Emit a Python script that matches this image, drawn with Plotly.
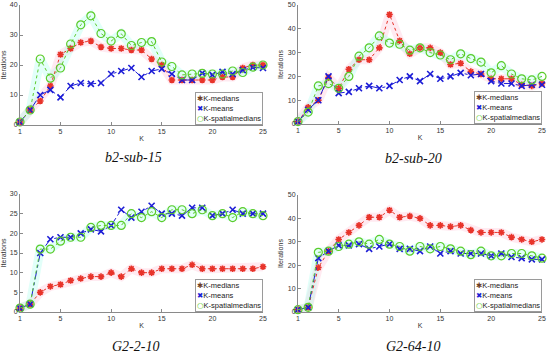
import plotly.graph_objects as go

K = list(range(1, 26))

# b2-sub-15
p1_medians = [1, 5, 8, 13, 23.5, 25.5, 27.5, 28, 26, 25.5, 25.5, 25, 25, 22, 20, 15, 15, 15, 15, 15, 16, 16, 19, 20, 20]
p1_means = [1, 5, 10, 11.7, 9.2, 13, 14, 13.7, 14, 17, 18, 19, 16, 18, 18.7, 17, 15, 15, 17.3, 16.7, 17.7, 17, 18.3, 19.2, 19]
p1_spatial = [1, 5, 22, 15.6, 19, 27, 33.4, 36.4, 30.5, 28, 30.4, 26.5, 27.5, 27.8, 21, 19.5, 16.7, 17, 17.2, 17, 17, 18, 17.5, 19.3, 20]

# b2-sub-20
p2_medians = [1, 7, 10, 19.5, 15, 23, 27, 27, 32, 46, 35, 29.5, 32, 32, 30, 25, 25.5, 22, 21, 19, 19, 19, 16.5, 16, 17]
p2_means = [1, 6, 10, 20, 13, 13.5, 15, 16, 15, 16, 18.5, 20, 18, 21, 19, 20, 21.5, 20.5, 21, 18, 17, 17, 16, 16.5, 16.5]
p2_spatial = [1, 5, 16, 17, 15, 20, 28.5, 32, 37, 34, 33.5, 31, 32, 30, 29, 27, 29.5, 27.5, 26, 21.5, 24.5, 21, 19, 18.5, 20]

# G2-2-10
p3_medians = [1, 2, 5, 6.5, 7, 8, 8.5, 9, 9, 10, 9, 11, 10, 10, 11, 11, 11, 12, 11, 11, 11, 11, 11, 11, 11.5]
p3_means = [1, 2, 15, 18.5, 19, 19, 20, 21, 20.5, 22, 26, 24, 25.5, 27, 25, 25, 24.5, 26.5, 26.5, 24.5, 25, 26, 25, 25, 25]
p3_spatial = [1, 2, 16, 16, 18, 19, 19, 21.5, 22, 22, 22, 25, 24, 25.5, 24, 26, 26, 25, 26, 24.5, 25, 24, 25.5, 25, 24.5]

# G2-64-10
p4_medians = [1, 2, 19, 26, 31, 34, 37, 40.5, 40.5, 43.5, 40.5, 41, 40, 37, 37, 36.5, 37, 35, 34, 34, 34, 32, 31, 30, 31]
p4_means = [1, 2, 23, 26, 28.5, 28.5, 29, 27, 28, 29, 27, 27, 26, 28, 25, 26, 25, 25, 25, 24, 25, 23.5, 23, 22.5, 22.5]
p4_spatial = [1, 2, 25.5, 26, 28, 29, 30, 29, 31, 29, 28, 26, 28, 27, 28, 27, 26, 24.5, 26, 24, 24, 25, 25, 24, 23]

titles = ["b2-sub-15", "b2-sub-20", "G2-2-10", "G2-64-10"]
series_names = ["K-medians", "K-means", "K-spatialmedians"]
yranges = [[0, 40], [0, 50], [0, 30], [0, 50]]
ytickvals = [[0, 10, 20, 30, 40], [0, 10, 20, 30, 40, 50], [0, 5, 10, 15, 20, 25, 30], [0, 10, 20, 30, 40, 50]]
data = [
    (p1_medians, p1_means, p1_spatial),
    (p2_medians, p2_means, p2_spatial),
    (p3_medians, p3_means, p3_spatial),
    (p4_medians, p4_means, p4_spatial),
]

W, H = 550, 357
# pixel boxes (left, right, top, bottom)
boxes = [(20, 263, 5, 125), (298, 542, 5, 124), (20, 263, 194, 312), (298, 542, 195, 312)]
title_pos = [(133, 157), (413, 158), (135, 346), (413, 346)]

RED = "#e8332a"
BROWN = "#6e3f26"
BLUE = "#1c1cd6"
GREEN = "#5ccc2a"
SYMS = [("✱", BROWN), ("✖", BLUE), ("○", GREEN)]

fig = go.Figure()
font = "Liberation Sans, Arial, sans-serif"

for i in range(4):
    ax = "" if i == 0 else str(i + 1)
    xa, ya = "x" + ax, "y" + ax
    med, mea, spa = data[i]
    # soft halos
    fig.add_trace(go.Scatter(x=K, y=med, xaxis=xa, yaxis=ya, mode="lines",
                             line=dict(color="rgba(255,170,200,0.25)", width=9),
                             showlegend=False, hoverinfo="skip", cliponaxis=False))
    fig.add_trace(go.Scatter(x=K, y=spa, xaxis=xa, yaxis=ya, mode="lines",
                             line=dict(color="rgba(160,255,235,0.30)", width=9),
                             showlegend=False, hoverinfo="skip", cliponaxis=False))
    fig.add_trace(go.Scatter(x=K, y=med, xaxis=xa, yaxis=ya, mode="lines+markers",
                             name=series_names[0], showlegend=False, cliponaxis=False,
                             line=dict(color=RED, width=1, dash="dot"),
                             marker=dict(symbol="asterisk-open", size=5.5,
                                         line=dict(color=BROWN, width=1.6))))
    fig.add_trace(go.Scatter(x=K, y=mea, xaxis=xa, yaxis=ya, mode="lines+markers",
                             name=series_names[1], showlegend=False, cliponaxis=False,
                             line=dict(color=BLUE, width=1, dash="dashdot"),
                             marker=dict(symbol="x-thin-open", size=6,
                                         line=dict(color=BLUE, width=1.6))))
    fig.add_trace(go.Scatter(x=K, y=spa, xaxis=xa, yaxis=ya, mode="lines+markers",
                             name=series_names[2], showlegend=False, cliponaxis=False,
                             line=dict(color=GREEN, width=1, dash="dot"),
                             marker=dict(symbol="circle-open", size=8,
                                         line=dict(color=GREEN, width=1.2))))

    l, r, t, b = boxes[i]
    xdom = [l / W, r / W]
    ydom = [1 - b / H, 1 - t / H]
    axis_common = dict(showgrid=False, zeroline=False, showline=True, linecolor="#8a8a8a",
                       linewidth=1, ticks="inside", ticklen=3, tickcolor="#8a8a8a",
                       automargin=False,
                       tickfont=dict(family=font, size=7, color="#333333"))
    fig.update_layout(**{
        "xaxis" + ax: dict(domain=xdom, range=[1, 25], tickvals=[1, 5, 10, 15, 20, 25],
                           anchor=ya, title=dict(text="K", standoff=1,
                                                 font=dict(family=font, size=7, color="#333333")),
                           **axis_common),
        "yaxis" + ax: dict(domain=ydom, range=yranges[i], tickvals=ytickvals[i],
                           anchor=xa, title=dict(text="Iterations", standoff=3,
                                                 font=dict(family=font, size=7, color="#333333")),
                           **axis_common),
    })
    # legend box (text-based, MATLAB style)
    leg_text = "<br>".join(
        f"<span style='color:{c};font-family:DejaVu Sans'>{s}</span>{n}"
        for (s, c), n in zip(SYMS, series_names))
    fig.add_annotation(text=leg_text, x=r / W, y=1 - b / H, xref="paper", yref="paper",
                       showarrow=False, xanchor="right", yanchor="bottom", align="left",
                       bgcolor="white", bordercolor="#9a9a9a", borderwidth=1, borderpad=1,
                       font=dict(family=font, size=7.5, color="#222222"))
    tx, ty = title_pos[i]
    fig.add_annotation(text=titles[i], x=tx / W, y=1 - ty / H, xref="paper", yref="paper",
                       showarrow=False, xanchor="center", yanchor="middle",
                       font=dict(family="Liberation Serif, Times New Roman, serif", size=14,
                                 color="#111111", style="italic"))

fig.update_layout(width=W, height=H, margin=dict(l=0, r=0, t=0, b=0),
                  plot_bgcolor="white", paper_bgcolor="white", showlegend=False)

fig.write_html("out.html", config={"displayModeBar": False},
               post_script="document.body.style.margin='0px';document.body.style.padding='0px';"
                           "document.body.style.overflow='hidden';")
